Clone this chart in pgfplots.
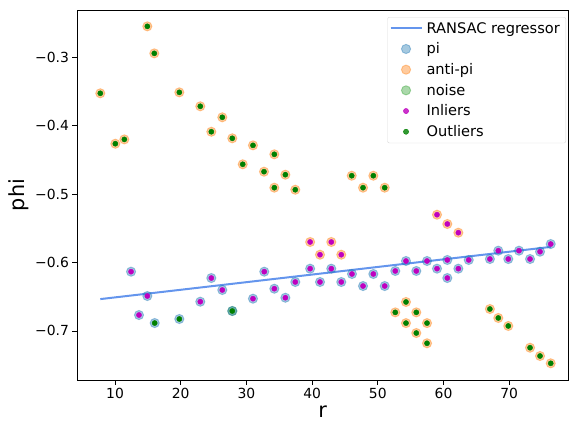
\documentclass[border=0pt]{standalone}
\usepackage{fontspec}
\setmainfont{DejaVu Sans}
\usepackage{pgfplots}
\pgfplotsset{compat=1.18}
\definecolor{tabblue}{HTML}{1F77B4}
\definecolor{taborange}{HTML}{FF7F0E}
\definecolor{tabgreen}{HTML}{2CA02C}
\definecolor{cfblue}{HTML}{6495ED}
\definecolor{mpmag}{HTML}{BF00BF}
\definecolor{mpgreen}{HTML}{008000}
\begin{document}
\begin{tikzpicture}
\begin{axis}[
  scale only axis,
  width=490.7pt, height=370pt,
  xmin=4.26, xmax=78.95, ymin=-0.7718, ymax=-0.2308,
  xtick={10,20,...,70},
  ytick={-0.7,-0.6,-0.5,-0.4,-0.3},
  yticklabels={−0.7,−0.6,−0.5,−0.4,−0.3},
  tick align=outside, tick pos=left,
  major tick length=4.9pt,
  every tick/.style={black, line width=0.8pt},
  axis line style={line width=0.8pt},
  /pgf/number format/assume math mode=true,
  ticklabel style={font=\fontsize{13.9}{16}\selectfont},
  xlabel={r}, ylabel={phi},
  label style={font=\fontsize{20.8}{24}\selectfont},
  xlabel style={yshift=0pt},
  ylabel style={yshift=-1pt},
  legend style={at={(rel axis cs:0.996,0.981)}, anchor=north east,
    draw=black!15, rounded corners=2pt, fill=white, fill opacity=0.8, text opacity=1,
    font=\fontsize{14.6}{17}\selectfont, row sep=4.1pt, inner xsep=2pt, inner ysep=3pt,
    nodes={inner xsep=4pt}},
  legend cell align=left,
  legend image code/.code={\draw[mark repeat=2,mark phase=2,#1] plot coordinates {(0pt,0pt) (15.5pt,0pt) (31pt,0pt)};},
]
\addlegendimage{cfblue, line width=2pt, no markers}
\addlegendentry{RANSAC regressor}
% noise circles (drawn below pi)
\addplot[tabgreen, only marks, mark=*, mark size=4.6pt, mark options={fill=tabgreen, draw=tabgreen, opacity=0.4, line width=0.9pt}, forget plot] coordinates {
(27.85,-0.6709)
};
% pi circles
\addplot[tabblue, only marks, mark=*, mark size=4.6pt, mark options={fill=tabblue, draw=tabblue, opacity=0.4, line width=0.9pt}] coordinates {
(12.44,-0.6134) (13.65,-0.6768) (14.92,-0.649) (16.04,-0.6885) (19.79,-0.6826)
(22.98,-0.6573) (24.66,-0.6227) (26.33,-0.6402) (27.85,-0.6709) (31.0,-0.6529)
(32.72,-0.6134) (34.25,-0.6383) (35.93,-0.6515) (37.44,-0.6285) (39.7,-0.609)
(41.2,-0.6285) (42.92,-0.609) (44.44,-0.6285) (46.07,-0.6168) (47.75,-0.6344)
(49.32,-0.6168) (51.05,-0.6344) (52.66,-0.6124) (54.29,-0.5978) (55.86,-0.6124)
(57.49,-0.5978) (59.01,-0.609) (60.58,-0.5963) (60.58,-0.6227) (62.26,-0.609)
(63.84,-0.5963) (67.06,-0.5949) (68.34,-0.5827) (69.86,-0.5949) (71.49,-0.5827)
(73.17,-0.5949) (74.69,-0.5842) (76.32,-0.573)
};
\addlegendentry{pi}
% anti-pi circles
\addplot[taborange, only marks, mark=*, mark size=4.6pt, mark options={fill=taborange, draw=taborange, opacity=0.4, line width=0.9pt}] coordinates {
(7.76,-0.3526) (10.05,-0.4263) (11.42,-0.420) (14.92,-0.2547) (15.98,-0.2942)
(19.79,-0.3512) (22.98,-0.3716) (24.66,-0.4088) (26.33,-0.3877) (27.85,-0.4184)
(29.44,-0.4564) (31.0,-0.4287) (32.68,-0.4672) (34.25,-0.4418) (34.25,-0.4906)
(35.93,-0.4716) (37.44,-0.4936) (46.03,-0.4731) (47.75,-0.4906) (49.32,-0.4731)
(51.05,-0.4906)
(39.7,-0.570) (41.2,-0.5886) (42.92,-0.570) (44.44,-0.5886)
(59.01,-0.5301) (60.58,-0.5437) (62.26,-0.5564)
(52.66,-0.6729) (54.29,-0.6577) (55.86,-0.6729) (54.29,-0.6886) (57.49,-0.6886)
(55.86,-0.7031) (57.49,-0.7181) (67.06,-0.668) (68.34,-0.6811) (69.86,-0.6928)
(73.17,-0.7246) (74.69,-0.7367) (76.32,-0.7474)
};
\addlegendentry{anti-pi}
\addlegendimage{tabgreen, only marks, mark=*, mark size=4.6pt, mark options={fill=tabgreen, draw=tabgreen, opacity=0.4, line width=0.9pt}}
\addlegendentry{noise}
% regressor line
\addplot[cfblue, line width=2pt, no markers, forget plot] coordinates {
(7.76,-0.6535) (76.32,-0.5772)
};
% inliers
\addplot[mpmag, only marks, mark=*, mark size=2.6pt, mark options={fill=mpmag, draw=none}] coordinates {
(12.44,-0.6134) (13.65,-0.6768) (14.92,-0.649)
(22.98,-0.6573) (24.66,-0.6227) (26.33,-0.6402) (31.0,-0.6529)
(32.72,-0.6134) (34.25,-0.6383) (35.93,-0.6515) (37.44,-0.6285) (39.7,-0.609)
(41.2,-0.6285) (42.92,-0.609) (44.44,-0.6285) (46.07,-0.6168) (47.75,-0.6344)
(49.32,-0.6168) (51.05,-0.6344) (52.66,-0.6124) (54.29,-0.5978) (55.86,-0.6124)
(57.49,-0.5978) (59.01,-0.609) (60.58,-0.5963) (60.58,-0.6227) (62.26,-0.609)
(63.84,-0.5963) (67.06,-0.5949) (68.34,-0.5827) (69.86,-0.5949) (71.49,-0.5827)
(73.17,-0.5949) (74.69,-0.5842) (76.32,-0.573)
(39.7,-0.570) (41.2,-0.5886) (42.92,-0.570) (44.44,-0.5886)
(59.01,-0.5301) (60.58,-0.5437) (62.26,-0.5564)
};
\addlegendentry{Inliers}
% outliers
\addplot[mpgreen, only marks, mark=*, mark size=2.6pt, mark options={fill=mpgreen, draw=none}] coordinates {
(16.04,-0.6885) (19.79,-0.6826) (27.85,-0.6709)
(7.76,-0.3526) (10.05,-0.4263) (11.42,-0.420) (14.92,-0.2547) (15.98,-0.2942)
(19.79,-0.3512) (22.98,-0.3716) (24.66,-0.4088) (26.33,-0.3877) (27.85,-0.4184)
(29.44,-0.4564) (31.0,-0.4287) (32.68,-0.4672) (34.25,-0.4418) (34.25,-0.4906)
(35.93,-0.4716) (37.44,-0.4936) (46.03,-0.4731) (47.75,-0.4906) (49.32,-0.4731)
(51.05,-0.4906)
(52.66,-0.6729) (54.29,-0.6577) (55.86,-0.6729) (54.29,-0.6886) (57.49,-0.6886)
(55.86,-0.7031) (57.49,-0.7181) (67.06,-0.668) (68.34,-0.6811) (69.86,-0.6928)
(73.17,-0.7246) (74.69,-0.7367) (76.32,-0.7474)
};
\addlegendentry{Outliers}
\end{axis}
\pgfresetboundingbox
\path[use as bounding box] (-77.3pt,-44pt) rectangle (491.7pt,380pt);
\end{tikzpicture}
\end{document}
